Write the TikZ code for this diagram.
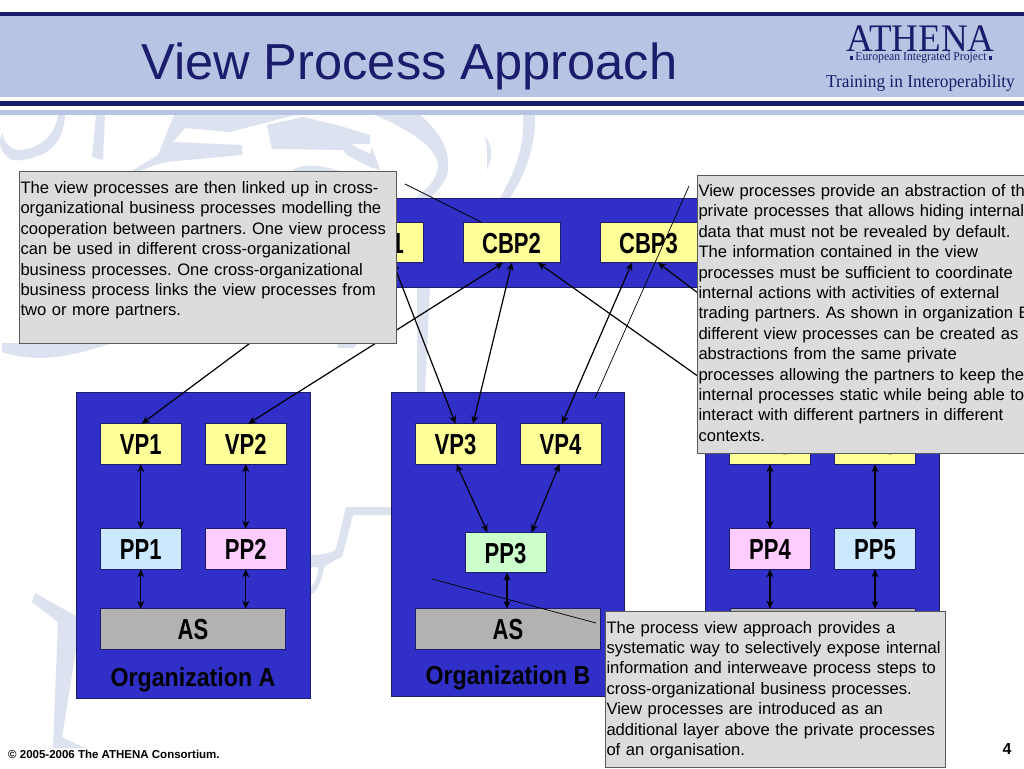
\documentclass[tikz,border=0pt]{standalone}
\usepackage{fontspec}
\setmainfont{Liberation Sans}
\newfontfamily\labelFont[FakeStretch=0.76]{Liberation Sans Bold}
\newfontfamily\orgFont[FakeStretch=0.89]{Liberation Sans Bold}
\newfontfamily\logoFont[FakeStretch=0.95]{Liberation Serif}
\usetikzlibrary{positioning, arrows.meta}
\definecolor{frameNavy}{HTML}{1C1C6C}
\definecolor{bandBlue}{HTML}{B8C4E3}
\definecolor{markBlue}{HTML}{DDE2F0}
\definecolor{orgBlue}{HTML}{3030C8}
\definecolor{vpYellow}{HTML}{FFFF99}
\definecolor{ppBlue}{HTML}{CCE8FF}
\definecolor{ppPink}{HTML}{FFCCFF}
\definecolor{ppGreen}{HTML}{CCFFCC}
\definecolor{asGray}{HTML}{B2B2B2}
\definecolor{noteGray}{HTML}{DCDCDC}

\begin{document}
\begin{tikzpicture}[x=1pt, y=-1pt,
      orgbox/.style={draw=frameNavy, fill=orgBlue, line width=0.8pt, inner sep=0pt, outer sep=0pt},
      procbox/.style={draw=frameNavy, line width=0.8pt, minimum width=81pt, minimum height=40.5pt, text height=21pt, text depth=0pt,
                  inner sep=0pt, outer sep=0pt, text=black, font=\labelFont\fontsize{29}{32}\selectfont},
      vpbox/.style={procbox, fill=vpYellow},
      cbpbox/.style={procbox, fill=vpYellow, minimum width=97pt},
      asbox/.style={procbox, fill=asGray, minimum width=185pt},
      orglabel/.style={anchor=base, inner sep=0pt, text=black, font=\orgFont\fontsize{26}{30}\selectfont},
      notebox/.style={draw=black!65, fill=noteGray, line width=0.8pt, anchor=north west, align=left, inner xsep=1.5pt,
                  inner ysep=0pt, outer sep=0pt, text=black, font=\frenchspacing\fontsize{16.6}{20.4}\selectfont},
      arr/.style={{Stealth[length=8pt, width=7pt]}-{Stealth[length=8pt, width=7pt]}, line width=1.2pt, black},
      lead/.style={black, line width=0.7pt},
      wmark/.style={fill=markBlue, draw=none}]
    \useasboundingbox (0,0) rectangle (1024,768);
    \fill[white] (0,0) rectangle (1024,768);

    \fill[wmark] (58,115) -- (65,115) .. controls (64,135) and (55,150) .. (40,155) .. controls (28,160) and (18,161) .. (12,160) .. controls (4,155) and (0,150) .. (0,140) -- (2,133) .. controls (5,145) and (12,151) .. (22,150) .. controls (42,147) and (55,135) .. (58,115) -- cycle;
    \fill[wmark] (96,115) -- (105,115) -- (103,160) -- (92,157) -- cycle;
    \fill[wmark] (174,115) -- (295,115) -- (230,132) -- (185,128) -- (173,142) -- (242,145) -- (242,155) -- (165,162) -- (155,165) -- (137,172) -- (130,172) -- (158,155) -- cycle;
    \fill[wmark] (267,125) -- (303,117) -- (337,125) -- (370,135) -- (370,144) -- (350,144) -- (370,154) -- (372,147) -- (380,170) -- (370,167) -- (347,155) -- (343,150) -- (272,149) -- cycle;
    \fill[wmark] (290,172) .. controls (298,165) and (312,162) .. (343,172) -- cycle;
    \fill[wmark] (375,115) -- (420,115) .. controls (440,132) and (450,150) .. (448,170) .. controls (447,180) and (440,188) .. (430,198) -- (416,198) .. controls (425,190) and (438,180) .. (438,165) .. controls (436,145) and (405,128) .. (375,115) -- cycle;
    \fill[wmark] (523,115) -- (535,115) .. controls (536,145) and (525,175) .. (510,198) -- (500,198) .. controls (516,170) and (525,145) .. (523,115) -- cycle;
    \fill[wmark] (485,137) .. controls (491,143) and (494,155) .. (487,170) .. controls (487,160) and (488,148) .. (485,137) -- cycle;
    \fill[wmark] (417,287) -- (430,287) -- (425,392) -- (417,392) -- cycle;
    \fill[wmark] (2,343) -- (113,343) .. controls (85,352) and (60,358) .. (40,358) .. controls (25,358) and (10,355) .. (2,352) -- cycle;
    \fill[wmark] (337,343) -- (357,343) -- (354,348) -- (338,348) -- cycle;
    \fill[wmark] (32,602) -- (35,593) -- (76,616) -- (76,650) -- (62,737) -- (85,748) -- (53,748) -- (58,622) -- cycle;
    \fill[wmark] (346,507) -- (391,507) -- (391,515) -- (353,515) -- (342,557) .. controls (335,560) and (328,564) .. (324,567) .. controls (322,580) and (318,590) .. (311,595) -- (311,587) .. controls (316,583) and (318,575) .. (318,567) -- (311,567) -- (311,555) .. controls (322,555) and (332,553) .. (336,549) -- cycle;

    \fill[frameNavy] (0,12) rectangle (1024,16);
    \fill[bandBlue] (0,16) rectangle (1024,97);
    \fill[frameNavy] (0,101) rectangle (1024,106);
    \fill[bandBlue] (0,110) rectangle (1024,114.5);

    \node[anchor=base west, inner sep=0pt, text=frameNavy, font=\fontsize{50.6}{55}\selectfont] (title) at (141,79) {View Process Approach};
    \node[anchor=base, inner sep=0pt, text=frameNavy, font=\logoFont\fontsize{39}{44}\selectfont] (logo) at (920.5,51.7) {ATHENA};
    \node[anchor=base, inner sep=0pt, text=frameNavy, font=\logoFont\fontsize{12.3}{14}\selectfont] (logosub) at (921,60.5) {\rule[1pt]{3.5pt}{3.5pt}\,European Integrated Project\,\rule[1pt]{3.5pt}{3.5pt}};
    \node[anchor=base, inner sep=0pt, text=frameNavy, font=\logoFont\fontsize{18.2}{20}\selectfont] (logotag) at (920.5,87) {Training in Interoperability};

    \node[orgbox, minimum width=500pt, minimum height=89pt] (cbpband) at (550,242.5) {};
    \node[orgbox, minimum width=234pt, minimum height=306pt] (orga) at (193.5,545) {};
    \node[orgbox, minimum width=233.5pt, minimum height=304pt] (orgb) at (508,544) {};
    \node[orgbox, minimum width=233.5pt, minimum height=306pt] (orgc) at (822.5,545) {};

    \node[cbpbox] (cbp2) at (511.5,242.5) {CBP2};
    \node[cbpbox, left=40pt of cbp2] (cbp1) {CBP1};
    \node[cbpbox, right=40pt of cbp2] (cbp3) {CBP3};

    \node[vpbox] (vp1) at (140.75,444) {VP1};
    \node[vpbox, right=24pt of vp1] (vp2) {VP2};
    \node[procbox, fill=ppBlue, below=64.5pt of vp1] (pp1) {PP1};
    \node[procbox, fill=ppPink, below=64.5pt of vp2] (pp2) {PP2};
    \node[asbox] (as1) at (193,629) {AS};
    \node[orglabel] (laba) at (193,686.5) {Organization A};

    \node[vpbox] (vp3) at (455.5,444) {VP3};
    \node[vpbox, right=24pt of vp3] (vp4) {VP4};
    \node[procbox, fill=ppGreen] (pp3) at (505.5,552.5) {PP3};
    \node[asbox] (as2) at (508,629) {AS};
    \node[orglabel] (labb) at (508,684.5) {Organization B};

    \node[vpbox] (vp5) at (770,444) {VP5};
    \node[vpbox, right=24pt of vp5] (vp6) {VP6};
    \node[procbox, fill=ppPink, below=64.5pt of vp5] (pp4) {PP4};
    \node[procbox, fill=ppBlue, below=64.5pt of vp6] (pp5) {PP5};
    \node[asbox] (as3) at (822.5,629) {};

    \draw[arr] (vp1) -- (pp1); \draw[arr] (vp2) -- (pp2);
    \draw[arr] (pp1) -- (pp1 |- as1.north); \draw[arr] (pp2) -- (pp2 |- as1.north);
    \draw[arr] (vp5) -- (pp4); \draw[arr] (vp6) -- (pp5);
    \draw[arr] (pp4) -- (pp4 |- as3.north); \draw[arr] (pp5) -- (pp5 |- as3.north);
    \draw[arr] ([xshift=1.5pt]pp3.south) -- ([xshift=1.5pt]pp3.south |- as2.north);
    \draw[arr] ([xshift=1pt]vp3.south) -- ([xshift=-18pt]pp3.north);
    \draw[arr] ([xshift=-1pt]vp4.south) -- ([xshift=26pt]pp3.north);
    \draw[arr] ([xshift=1pt]vp1.north) -- ([xshift=-16.5pt]cbp1.south);
    \draw[arr] ([xshift=2.5pt]vp2.north) -- ([xshift=-8.5pt]cbp2.south);
    \draw[arr] (vp3.north) -- ([xshift=18.5pt]cbp1.south);
    \draw[arr] ([xshift=17.5pt]vp3.north) -- ([xshift=0.5pt]cbp2.south);
    \draw[arr] ([xshift=1.5pt]vp4.north) -- ([xshift=-16.5pt]cbp3.south);
    \draw[arr] ([xshift=-5pt]vp5.north) -- ([xshift=26.5pt]cbp2.south);
    \draw[arr] ([xshift=-4.5pt]vp6.north) -- ([xshift=9.5pt]cbp3.south);

    \coordinate (leadlefta) at (405,184);
    \coordinate (leadrighta) at (689,186);
    \coordinate (leadrightb) at (595,398);
    \coordinate (leadlowa) at (432,579);
    \coordinate (leadlowb) at (596,623);
    \draw[lead] (leadlefta) -- ([xshift=-30pt]cbp2.north);
    \draw[lead] (leadrighta) -- (leadrightb);
    \draw[lead] (leadlowa) -- (leadlowb);

    \node[notebox, text width=374pt] (noteleft) at (19,171.5) {\rule{0pt}{22pt}The view processes are then linked up in cross-\\organizational business processes modelling the\\cooperation between partners. One view process\\can be used in different cross-organizational\\business processes. One cross-organizational\\business process links the view processes from\\two or more partners.\rule[-27pt]{0pt}{1pt}};
    \node[notebox, text width=360pt] (noteright) at (697,175) {\rule{0pt}{21.5pt}View processes provide an abstraction of the\\private processes that allows hiding internal\\data that must not be revealed by default.\\The information contained in the view\\processes must be sufficient to coordinate\\internal actions with activities of external\\trading partners. As shown in organization B,\\different view processes can be created as\\abstractions from the same private\\processes allowing the partners to keep their\\internal processes static while being able to\\interact with different partners in different\\contexts.\rule[-11.7pt]{0pt}{1pt}};
    \node[notebox, text width=337pt] (notelow) at (605,611) {\rule{0pt}{22pt}The process view approach provides a\\systematic way to selectively expose internal\\information and interweave process steps to\\cross-organizational business processes.\\View processes are introduced as an\\additional layer above the private processes\\of an organisation.\rule[-11.6pt]{0pt}{1pt}};

    \node[anchor=west, inner sep=0pt, text=black, font=\bfseries\fontsize{11.5}{13}\selectfont] (copyright) at (8,754) {© 2005-2006 The ATHENA Consortium.};
    \node[inner sep=0pt, text=black, font=\bfseries\fontsize{16}{18}\selectfont] (pagenum) at (1007,749) {4};
  \end{tikzpicture}
\end{document}
